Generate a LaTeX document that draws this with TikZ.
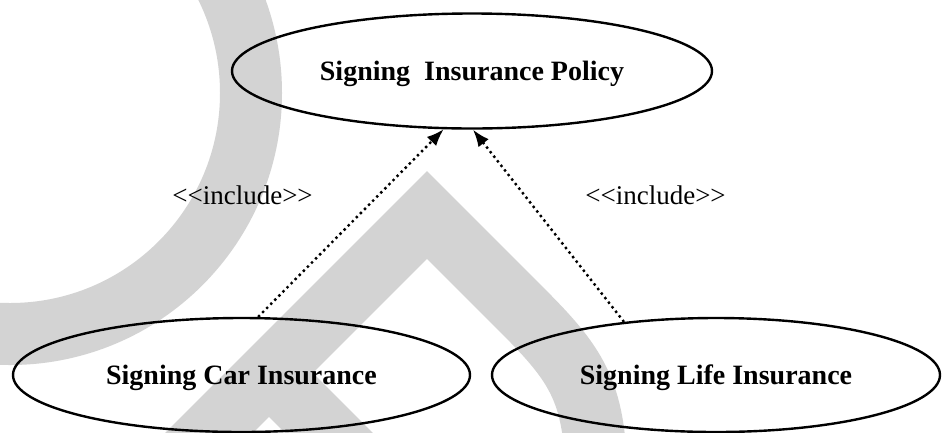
\documentclass[tikz,border=0pt]{standalone}
\usepackage{fontspec}
\setmainfont{Liberation Serif}
\usetikzlibrary{shapes.geometric,arrows.meta}
\definecolor{wmgray}{RGB}{211,211,211}
\begin{document}
\begin{tikzpicture}[x=1pt,y=-1pt,
  usecase/.style={draw=black, line width=2.4pt, ellipse, inner sep=0pt,
    text height=18.5pt, text depth=0pt,
    font=\fontsize{28}{32}\selectfont\bfseries},
  include/.style={draw=black, line width=2.4pt, dash pattern=on 2.4pt off 3.4pt,
    -{Latex[length=17pt,width=13pt]}},
  stereo/.style={font=\fontsize{27}{32}\selectfont, inner sep=0pt},
  wm/.style={draw=wmgray, line width=62pt}]
\useasboundingbox (0,0) rectangle (942,432);

% light grey background strokes
\begin{scope}
  \clip (0,0) rectangle (942,432);
  \path[wm] (10,93) circle[radius=241pt];
  \path[wm, line join=miter] (162,480) -- (427,215) -- (520,308)
     .. controls (575,363) and (596,390) .. (596,480);
  \path[wm] (269,373) -- (385,489);
\end{scope}

% use cases
\node[usecase, minimum width=480pt, minimum height=115pt] (policy) at (472,71)
  {Signing~~Insurance Policy};
\node[usecase, minimum width=457pt, minimum height=114pt] (car) at (241.5,375)
  {Signing Car Insurance};
\node[usecase, minimum width=448pt, minimum height=114pt] (life) at (716,375)
  {Signing Life Insurance};

% include relations
\draw[include] (car.74) -- (policy.244);
\draw[include] (life.150) -- (policy.-89);

\node[stereo] (inclL) at (242.5,195) {<\kern0pt<include>\kern0pt>};
\node[stereo] (inclR) at (655.5,195) {<\kern0pt<include>\kern0pt>};
\end{tikzpicture}
\end{document}
